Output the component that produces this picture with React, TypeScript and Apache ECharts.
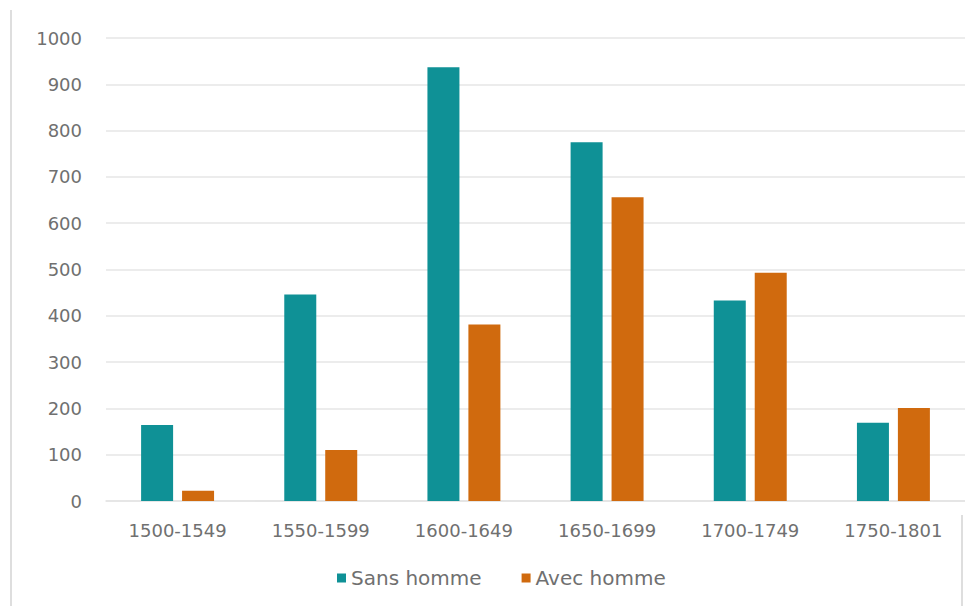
import React, { useEffect, useRef } from "react";
import * as echarts from "echarts";

const categories = ["1500-1549", "1550-1599", "1600-1649", "1650-1699", "1700-1749", "1750-1801"];
const sansHomme = [164, 446, 937, 775, 433, 169];
const avecHomme = [22, 110, 381, 656, 493, 201];
const seriesNames = ["Sans homme", "Avec homme"];

const FONT = "'DejaVu Sans', sans-serif";
const TEXT = "#707070";

export default function App() {
  const ref = useRef<HTMLDivElement>(null);
  useEffect(() => {
    if (!ref.current) return;
    const chart = echarts.init(ref.current, null, { renderer: "svg" });
    chart.setOption({
      animation: false,
      backgroundColor: "#ffffff",
      graphic: [
        {
          type: "line",
          shape: { x1: 11, y1: 10, x2: 11, y2: 606 },
          style: { stroke: "#dedede", lineWidth: 2 },
          silent: true,
        },
        {
          type: "line",
          shape: { x1: 962, y1: 515, x2: 962, y2: 606 },
          style: { stroke: "#dedede", lineWidth: 2 },
          silent: true,
        },
      ],
      grid: { left: 106, top: 38, width: 868, height: 463 },
      legend: {
        bottom: 13,
        left: 332,
        itemWidth: 9,
        itemHeight: 9,
        itemGap: 40,
        icon: "rect",
        textStyle: { fontFamily: FONT, fontSize: 20, color: TEXT },
        data: seriesNames,
      },
      xAxis: {
        type: "category",
        data: categories,
        axisLine: { show: true, lineStyle: { color: "#e3e3e3", width: 1.5 } },
        axisTick: { show: false },
        axisLabel: { fontFamily: FONT, fontSize: 18, color: TEXT, margin: 20 },
      },
      yAxis: {
        type: "value",
        min: 0,
        max: 1000,
        interval: 100,
        axisLine: { show: false },
        axisTick: { show: false },
        splitLine: { lineStyle: { color: "#e6e6e6", width: 1.5 } },
        axisLabel: {
          fontFamily: FONT,
          fontSize: 18,
          color: TEXT,
          margin: 24,
          formatter: (v: number) => String(v),
        },
      },
      series: [
        {
          name: seriesNames[0],
          type: "bar",
          data: sansHomme,
          barWidth: 32,
          barGap: "28%",
          itemStyle: { color: "#0f9196" },
        },
        {
          name: seriesNames[1],
          type: "bar",
          data: avecHomme,
          barWidth: 32,
          itemStyle: { color: "#d06a0e" },
        },
      ],
    });
    return () => chart.dispose();
  }, []);
  return (
    <div
      ref={ref}
      style={{ position: "absolute", left: 0, top: 0, width: 965, height: 606 }}
    />
  );
}
